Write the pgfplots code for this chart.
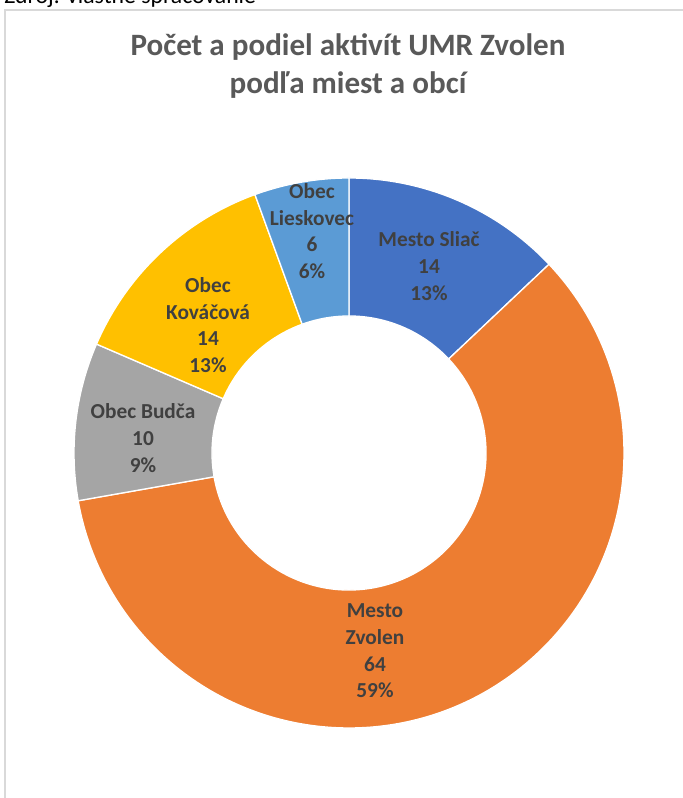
\documentclass[border=0pt]{standalone}
\usepackage{fontspec}
\setmainfont{Carlito}
\usepackage{pgfplots}
\usepackage{pgfplotstable}
\pgfplotsset{compat=1.18}

\definecolor{c0}{HTML}{4472C4}
\definecolor{c1}{HTML}{ED7D31}
\definecolor{c2}{HTML}{A5A5A5}
\definecolor{c3}{HTML}{FFC000}
\definecolor{c4}{HTML}{5B9BD5}
\definecolor{titlegray}{HTML}{595959}
\definecolor{labgray}{HTML}{404040}
\definecolor{framegray}{HTML}{D9D9D9}

% label, value, label position (px from centre)
\pgfplotstableread[col sep=comma]{
label,value,lx,ly
Mesto Sliač,14,80,187
{Mesto\\Zvolen},64,26,-198
Obec Budča,10,-206,15
{Obec\\Kováčová},14,-141,128
{Obec\\Lieskovec},6,-37,222
}\donut

% cumulative angles, clockwise from 12 o'clock
\def\total{0}
\pgfplotsforeachungrouped \i in {0,...,4}{%
  \pgfplotstablegetelem{\i}{value}\of\donut
  \pgfmathsetmacro\total{\total+\pgfplotsretval}%
}
\def\cum{0}
\pgfplotsforeachungrouped \i in {0,...,4}{%
  \pgfplotstablegetelem{\i}{value}\of\donut
  \edef\val{\pgfplotsretval}%
  \pgfmathsetmacro\sa{90-\cum/\total*360}%
  \pgfmathsetmacro\cum{\cum+\val}%
  \pgfmathsetmacro\ea{90-\cum/\total*360}%
  \pgfmathtruncatemacro\pc{round(\val/\total*100)}%
  \expandafter\xdef\csname sa\i\endcsname{\sa}%
  \expandafter\xdef\csname ea\i\endcsname{\ea}%
  \expandafter\xdef\csname pc\i\endcsname{\pc}%
  \expandafter\xdef\csname val\i\endcsname{\val}%
  \pgfplotstablegetelem{\i}{lx}\of\donut
  \expandafter\xdef\csname lx\i\endcsname{\pgfplotsretval}%
  \pgfplotstablegetelem{\i}{ly}\of\donut
  \expandafter\xdef\csname ly\i\endcsname{\pgfplotsretval}%
  \pgfplotstablegetelem{\i}{label}\of\donut
  \global\expandafter\let\csname lab\i\endcsname\pgfplotsretval
}

\begin{document}
\begin{tikzpicture}[x=0.75pt,y=0.75pt]
\useasboundingbox (0,0) rectangle (682,798);

% chart frame (cropped at right and bottom)
\draw[framegray, line width=1pt] (5,-5) -- (5,788) -- (690,788);

\node[anchor=base west, inner sep=0, font=\fontsize{17.8}{20}\selectfont]
  at (4,794) {Zdroj: vlastné spracovanie};

\node[align=center, text=titlegray,
  font=\fontsize{23.3}{28.5}\selectfont\bfseries] at (348,732)
  {Počet a podiel aktivít UMR Zvolen\\podľa miest a obcí};

\begin{axis}[
    hide axis,
    x=0.75pt, y=0.75pt,
    xmin=-300, xmax=300, ymin=-300, ymax=300,
    anchor=origin, at={(261.75pt,258.75pt)},
    clip=false,
]
\pgfplotsinvokeforeach{0,...,4}{
  \fill[c#1, draw=white, line width=1pt]
    (axis cs:{275*cos(\csname sa#1\endcsname)},{275*sin(\csname sa#1\endcsname)})
    arc[start angle=\csname sa#1\endcsname, end angle=\csname ea#1\endcsname, radius=206.25pt]
    -- (axis cs:{137*cos(\csname ea#1\endcsname)},{137*sin(\csname ea#1\endcsname)})
    arc[start angle=\csname ea#1\endcsname, end angle=\csname sa#1\endcsname, radius=102.75pt]
    -- cycle;
}
\pgfplotsinvokeforeach{0,...,4}{
  \node[align=center, text=labgray, font=\fontsize{16}{20}\selectfont\bfseries]
    at (axis cs:\csname lx#1\endcsname,\csname ly#1\endcsname)
    {\csname lab#1\endcsname\\\csname val#1\endcsname\\\csname pc#1\endcsname\%};
}
\end{axis}
\end{tikzpicture}
\end{document}
